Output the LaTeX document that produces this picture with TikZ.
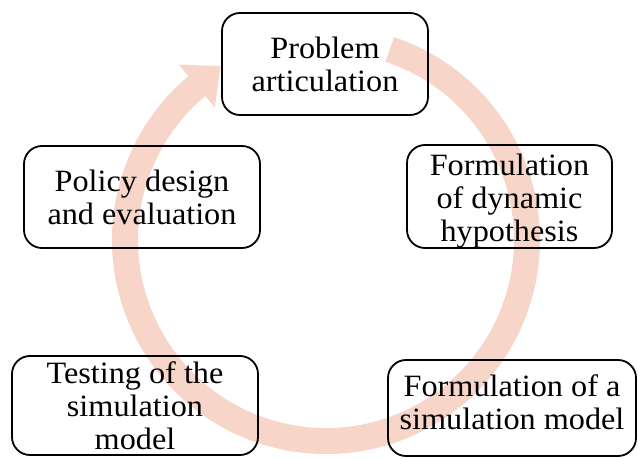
\documentclass[tikz,border=0pt]{standalone}
\usepackage{fontspec}
\setmainfont{Liberation Serif}[FakeStretch=1.04]
\usetikzlibrary{calc}
\definecolor{ringc}{RGB}{247,213,201}
\begin{document}
\begin{tikzpicture}[x=1pt,y=1pt,
  stage/.style={draw=black, line width=1.8pt, rounded corners=18pt, align=center,
    font=\fontsize{31}{33}\selectfont, inner sep=0pt},
  stagetext/.style={align=center, font=\fontsize{31}{33}\selectfont, inner sep=0pt},
  ring/.style={draw=ringc, line width=26pt}
]
\useasboundingbox (0,0) rectangle (639,458);
\coordinate (C) at (326,218);
\draw[ring] ($(C)+(71.5:201)$) arc[start angle=71.5, end angle=-230, radius=201];
\coordinate (tip) at ($(C)+(130:201)+(40:31)$);
\fill[ringc] ($(C)+(130:173)$) -- ($(C)+(130:229)$) -- (tip) -- cycle;
\node[stage, minimum width=206pt, minimum height=102pt] (p) at (325,394) {Problem\\articulation};
\node[stage, minimum width=205pt, minimum height=103pt] (h) at (509.5,261.5) {};
\node[stagetext] (htxt) at ([yshift=-5pt]h.center) {Formulation\\of dynamic\\hypothesis};
\node[stage, minimum width=248pt, minimum height=96pt] (s) at (512,50) {};
\node[stagetext] (stxt) at ([yshift=6pt]s.center) {Formulation of a\\simulation model};
\node[stage, minimum width=246pt, minimum height=99pt] (t) at (135,52.5) {Testing of the\\simulation\\model};
\node[stage, minimum width=236pt, minimum height=102pt] (pol) at (142,261) {Policy design\\and evaluation};
\end{tikzpicture}
\end{document}
